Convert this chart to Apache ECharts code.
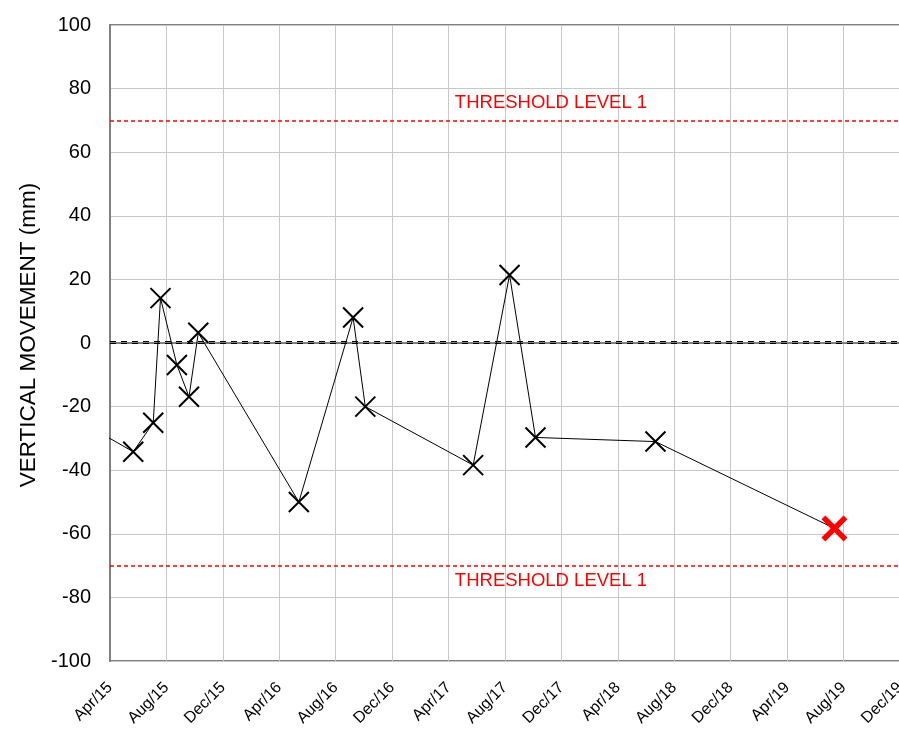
<!DOCTYPE html>
<html>
<head>
<meta charset="utf-8">
<script src="https://cdn.jsdelivr.net/npm/echarts@6/dist/echarts.min.js"></script>
<style>
html,body{margin:0;padding:0;background:#fff;overflow:hidden;}
#chart{width:899px;height:731px;}
</style>
</head>
<body>
<div id="chart"></div>
<script>
// Survey dates and vertical movement readings (mm)
var surveyDates = ['2015-01-01','2015-05-21','2015-07-03','2015-07-19','2015-08-24','2015-09-19','2015-10-09',
  '2016-05-13','2016-09-08','2016-10-04','2017-05-24','2017-08-11','2017-10-06','2018-06-21','2019-07-12'];
var movement = [-22.4,-34.2,-25.1,14.1,-6.9,-16.9,3.2,-50.0,8.0,-20.0,-38.4,21.4,-29.7,-31.0,-58.3];
var tickLabels = ['Apr/15','Aug/15','Dec/15','Apr/16','Aug/16','Dec/16','Apr/17','Aug/17','Dec/17',
  'Apr/18','Aug/18','Dec/18','Apr/19','Aug/19','Dec/19'];
var thresholdUpper = 70;
var thresholdLower = -70;
var zeroLevel = 0;
var thresholdText = 'THRESHOLD LEVEL 1';
var yAxisTitle = 'VERTICAL MOVEMENT (mm)';

// months elapsed since Apr 2015
function monthsSinceStart(s) {
  var p = s.split('-').map(Number);
  var dim = new Date(p[0], p[1], 0).getDate();
  return (p[0] - 2015) * 12 + (p[1] - 4) + (p[2] - 1) / dim;
}
var xy = surveyDates.map(function (d, i) { return [monthsSinceStart(d), movement[i]]; });
var lastIdx = xy.length - 1;
var FONT = 'Liberation Sans, Arial, sans-serif';
var crossPath = 'path://M0,0L20,20M20,0L0,20';
var boldCross = 'path://M3,0L10,7L17,0L20,3L13,10L20,17L17,20L10,13L3,20L0,17L7,10L0,3Z';

var data = xy.map(function (p, i) {
  if (i === lastIdx) {
    return { value: p, symbol: boldCross, symbolSize: 26,
      itemStyle: { color: '#ff0000', borderWidth: 0 } };
  }
  return { value: p };
});

function thresholdSeries(level, pos, dist) {
  return {
    type: 'line', silent: true, data: [], symbol: 'none', color: '#ff0000', z: 3,
    markLine: {
      silent: true, symbol: 'none', animation: false,
      lineStyle: { color: '#ff0000', type: [4, 3], width: 1.5, opacity: 1 },
      emphasis: { disabled: true },
      label: { show: true, formatter: thresholdText, color: '#ff0000', fontSize: 18.5, fontFamily: FONT,
        position: pos, distance: dist, offset: [46, 0] },
      data: [{ yAxis: level }]
    }
  };
}

var chart = echarts.init(document.getElementById('chart'), null, { renderer: 'canvas' });
chart.setOption({
  animation: false,
  backgroundColor: '#ffffff',
  grid: { left: 110, top: 25, bottom: 70, width: 790, show: true, borderColor: '#808080', borderWidth: 2,
    outerBoundsMode: 'none', containLabel: false },
  xAxis: {
    type: 'value', min: 0, max: 56, interval: 4,
    axisLine: { show: true, lineStyle: { color: '#808080', width: 2 } },
    axisTick: { show: false },
    splitLine: { show: true, lineStyle: { color: '#c8c8c8', width: 1 } },
    axisLabel: {
      rotate: 45, fontSize: 16, color: '#000', fontFamily: FONT, margin: 24,
      formatter: function (v) { return tickLabels[Math.round(v / 4)] || ''; }
    }
  },
  yAxis: {
    type: 'value', min: -100, max: 100, interval: 20,
    name: yAxisTitle, nameLocation: 'middle', nameGap: 70, nameRotate: 90,
    nameTextStyle: { fontSize: 22.5, color: '#000', fontFamily: FONT, padding: [0, 0, 0, 16] },
    axisLine: { show: true, lineStyle: { color: '#808080', width: 2 } },
    axisTick: { show: false },
    splitLine: { show: true, lineStyle: { color: '#c8c8c8', width: 1 } },
    axisLabel: { fontSize: 20, color: '#000', fontFamily: FONT, margin: 19 }
  },
  series: [
    thresholdSeries(thresholdUpper, 'insideMiddleTop', 8),
    thresholdSeries(thresholdLower, 'insideMiddleBottom', 6),
    {
      type: 'line', silent: true, data: [], symbol: 'none',
      markLine: {
        silent: true, symbol: 'none', animation: false,
        lineStyle: { color: '#000', type: [6, 5], width: 1.2, shadowColor: '#000', shadowBlur: 0, shadowOffsetY: -2 },
        label: { show: false },
        data: [{ yAxis: zeroLevel }]
      }
    },
    {
      type: 'line', data: data, clip: true,
      symbol: crossPath, symbolSize: 20, showAllSymbol: true,
      lineStyle: { color: '#000', width: 1 },
      itemStyle: { color: '#000', borderColor: '#000', borderWidth: 2 },
      z: 5
    }
  ]
});
</script>
</body>
</html>
